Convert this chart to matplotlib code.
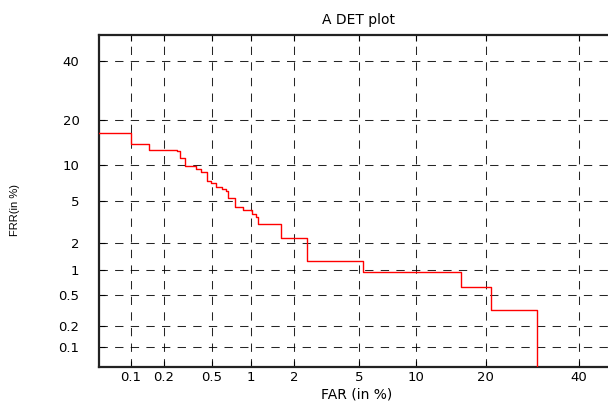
import numpy as np
import matplotlib
matplotlib.use("Agg")
import matplotlib.pyplot as plt
from statistics import NormalDist

# DET curve (percent), corners of the staircase
far = [0.05, 0.1, 0.148, 0.257, 0.274, 0.302, 0.373, 0.41, 0.455, 0.494, 0.54,
       0.598, 0.647, 0.67, 0.763, 0.866, 1.01, 1.09, 1.12, 1.63, 2.43, 5.27,
       15.9, 20.9, 30.2]
frr = [16.7, 14.1, 12.9, 12.6, 11.2, 9.8, 9.2, 8.8, 7.4, 7.2, 6.6,
       6.4, 6.1, 5.4, 4.4, 4.2, 3.8, 3.6, 3.1, 2.24, 1.27, 0.96,
       0.635, 0.32, 0.01]

tick_vals = [0.1, 0.2, 0.5, 1, 2, 5, 10, 20, 40]
tick_labels = ["0.1", "0.2", "0.5", "1", "2", "5", "10", "20", "40"]

# normal deviate (probit) scale for percentages
_nd = NormalDist()
_ppf = np.vectorize(lambda p: _nd.inv_cdf(min(max(p / 100.0, 1e-7), 1 - 1e-7)),
                    otypes=[float])
_cdf = np.vectorize(lambda z: _nd.cdf(z) * 100.0, otypes=[float])


def fwd(v):
    return _ppf(np.asarray(v, dtype=float))


def inv(v):
    return _cdf(np.asarray(v, dtype=float))


plt.rcParams['font.family'] = ['DejaVu Sans']

fig = plt.figure(figsize=(6.08, 4.01), dpi=100)
ax = fig.add_axes([0.1628, 0.0843, 0.8546, 0.8272])

ax.set_xscale('function', functions=(fwd, inv))
ax.set_yscale('function', functions=(fwd, inv))
ax.minorticks_off()

ax.plot(far, frr, drawstyle='steps-post', color='red', linewidth=1.0, zorder=3)

ax.set_xlim(0.05, 50)
ax.set_ylim(0.05, 50)
ax.set_xticks(tick_vals, tick_labels)
ax.set_yticks(tick_vals, tick_labels)

ax.grid(True, color='black', linewidth=0.75, linestyle=(0, (8, 7)), alpha=0.85)
ax.tick_params(direction='in', length=4, width=0.8, top=True, right=True,
               labelsize=9.5)
ax.tick_params(axis='x', pad=3)
ax.tick_params(axis='y', pad=14)
for s in ax.spines.values():
    s.set_linewidth(1.6)
    s.set_color('#222222')

ax.set_title('A DET plot', fontsize=10, pad=8)
ax.set_xlabel('FAR (in %)', fontsize=10)
ax.xaxis.set_label_coords(0.4965, -0.062)
ax.set_ylabel('FRR(in %)', fontsize=8, family='Liberation Sans')
ax.yaxis.set_label_coords(-0.152, 0.474)

fig.savefig('out.png', dpi=100)
